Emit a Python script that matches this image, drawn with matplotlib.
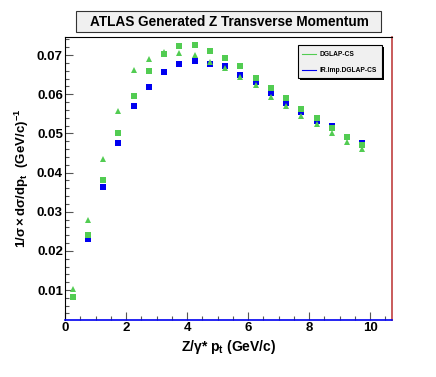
"""Z transverse momentum distribution, ROOT-style plot."""

import matplotlib
matplotlib.use('Agg')
from matplotlib import pyplot, patches
from matplotlib.ticker import MultipleLocator
import numpy

# Bin centres (GeV/c).
pt = [0.25, 0.75, 1.25, 1.75, 2.25, 2.75, 3.25, 3.75, 4.25, 4.75,
      5.25, 5.75, 6.25, 6.75, 7.25, 7.75, 8.25, 8.75, 9.25, 9.75]
# DGLAP-CS (green squares).
dglap = [0.0082, 0.0240, 0.0382, 0.0501, 0.0595, 0.0660, 0.0703, 0.0722,
         0.0726, 0.0711, 0.0692, 0.0671, 0.0642, 0.0615, 0.0589, 0.0561,
         0.0538, 0.0514, 0.0491, 0.0470]
# IR.Imp.DGLAP-CS (blue squares).
irimp = [0.0081, 0.0230, 0.0362, 0.0475, 0.0570, 0.0618, 0.0657, 0.0677,
         0.0685, 0.0678, 0.0672, 0.0650, 0.0630, 0.0604, 0.0578, 0.0555,
         0.0532, 0.0518, 0.0490, 0.0475]
# Third series (green triangles).
triangles = [0.0102, 0.0279, 0.0434, 0.0557, 0.0661, 0.0689, 0.0708, 0.0706,
             0.0701, 0.0682, 0.0666, 0.0644, 0.0623, 0.0594, 0.0570, 0.0544,
             0.0524, 0.0502, 0.0478, 0.0461]
legend_labels = ['DGLAP-CS', 'IR.Imp.DGLAP-CS']

green = '#52cc52'
blue = '#0000f0'

pyplot.rcParams['font.family'] = 'Liberation Sans'
pyplot.rcParams['font.weight'] = 'bold'
pyplot.rcParams['mathtext.fontset'] = 'custom'
pyplot.rcParams['mathtext.rm'] = 'Liberation Sans:bold'
pyplot.rcParams['mathtext.it'] = 'Liberation Sans:bold'
pyplot.rcParams['mathtext.bf'] = 'Liberation Sans:bold'

W, H = 436, 377
fig = pyplot.figure(figsize=(W / 100, H / 100), dpi=100)
ax = fig.add_axes([65 / W, 1 - 320 / H, (392 - 65) / W, (320 - 37) / H])

ax.plot(pt, irimp, 's', color=blue, markersize=4.0, markeredgewidth=0,
        zorder=3)
ax.plot(pt, dglap, 's', color=green, markersize=4.0, markeredgewidth=0,
        zorder=4)
ax.plot(pt, triangles, '^', color=green, markersize=4.0, markeredgewidth=0,
        zorder=5)

ax.set_xlim(0.0, 10.72)
ax.set_ylim(0.00234, 0.0746)
ax.xaxis.set_major_locator(MultipleLocator(2))
ax.xaxis.set_minor_locator(MultipleLocator(0.5))
ax.yaxis.set_major_locator(MultipleLocator(0.01))
ax.yaxis.set_minor_locator(MultipleLocator(0.002))
ax.set_xticks([0, 2, 4, 6, 8, 10])
ax.set_xticklabels(['0', '2', '4', '6', '8', '10'])
ax.set_yticks([0.01, 0.02, 0.03, 0.04, 0.05, 0.06, 0.07])
ax.set_yticklabels(['0.01', '0.02', '0.03', '0.04', '0.05', '0.06', '0.07'])
ax.tick_params(which='major', direction='in', length=6, width=0.8,
               labelsize=9.5)
ax.tick_params(which='minor', direction='in', length=3, width=0.8)
ax.tick_params(axis='x', which='major', pad=1.5)
ax.tick_params(axis='y', which='major', pad=1.5)
ax.tick_params(axis='x', which='both', colors='#555555', labelcolor='black')
ax.tick_params(axis='y', which='both', colors='#555555', labelcolor='black')
ax.spines['bottom'].set_color(blue)
ax.spines['bottom'].set_linewidth(1.2)
ax.spines['right'].set_color('#c04040')
ax.spines['right'].set_linewidth(1.2)

ax.set_xlabel(r'Z/$\gamma$* p$_{t}$ (GeV/c)', fontsize=10, fontweight='bold')
ax.xaxis.set_label_coords(0.5, -0.062)
ax.set_ylabel(r'$\mathregular{1/\sigma \times d\sigma/dp_{t}}$  '
              r'(GeV/c)$^{-1}$', fontsize=9.5, fontweight='bold')
ax.yaxis.set_label_coords(-0.105, 0.5)

# Title box with shadow.
def fig_rect(x0, y0, x1, y1, **kw):
    return patches.Rectangle((x0 / W, 1 - y1 / H), (x1 - x0) / W,
                             (y1 - y0) / H, transform=fig.transFigure, **kw)

fig.patches.append(fig_rect(77, 12, 382, 33, facecolor='#777777',
                            edgecolor='none'))
fig.patches.append(fig_rect(76, 11, 381, 32, facecolor='#f0f0f0',
                            edgecolor='#333333', linewidth=0.8))
fig.text(229 / W, 1 - 22 / H, 'ATLAS Generated Z Transverse Momentum',
         ha='center', va='center', fontsize=9.8, fontweight='bold')

# Legend box with shadow.
fig.patches.append(fig_rect(300, 47, 384, 80, facecolor='black',
                            edgecolor='none'))
fig.patches.append(fig_rect(298, 45, 382, 78, facecolor='#f0f0f0',
                            edgecolor='black', linewidth=0.8))
for label, color, y in zip(legend_labels, [green, blue], [54, 70]):
    fig.add_artist(matplotlib.lines.Line2D([302 / W, 316 / W],
                                           [1 - y / H, 1 - y / H],
                                           color=color, linewidth=0.8,
                                           transform=fig.transFigure))
    fig.text(319 / W, 1 - y / H, label, ha='left', va='center',
             fontsize=4.8, fontweight='bold')

fig.savefig('out.png', dpi=100, facecolor='white')
